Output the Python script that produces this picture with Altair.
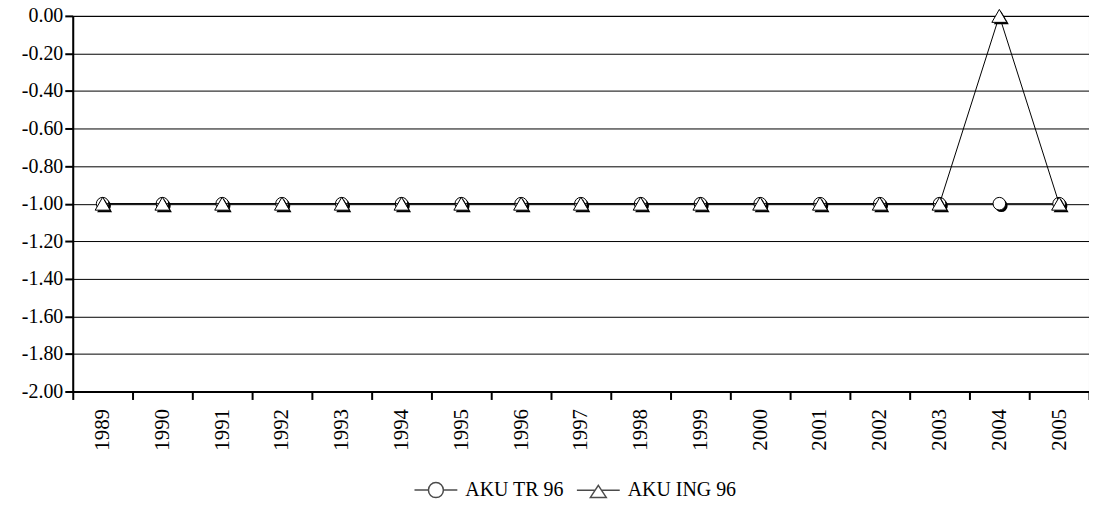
import altair as alt
import pandas as pd

years = ["1989", "1990", "1991", "1992", "1993", "1994", "1995", "1996", "1997",
         "1998", "1999", "2000", "2001", "2002", "2003", "2004", "2005"]
aku_tr_96 = [-1.0, -1.0, -1.0, -1.0, -1.0, -1.0, -1.0, -1.0, -1.0,
             -1.0, -1.0, -1.0, -1.0, -1.0, -1.0, -1.0, -1.0]
aku_ing_96 = [-1.0, -1.0, -1.0, -1.0, -1.0, -1.0, -1.0, -1.0, -1.0,
              -1.0, -1.0, -1.0, -1.0, -1.0, -1.0, 0.0, -1.0]
series_names = ["AKU TR 96", "AKU ING 96"]
y_ticks = [0.0, -0.2, -0.4, -0.6, -0.8, -1.0, -1.2, -1.4, -1.6, -1.8, -2.0]

tr_df = pd.DataFrame({"year": years, "value": aku_tr_96, "series": series_names[0]})
ing_df = pd.DataFrame({"year": years, "value": aku_ing_96, "series": series_names[1]})
# legend-only rows: far outside the y domain, so they fall off the canvas
leg_df = pd.DataFrame({"year": [years[0], years[0]], "value": [2.0, 2.0], "series": series_names})

FONT = "Liberation Serif"

x_enc = alt.X("year:N", sort=years,
              scale=alt.Scale(type="band", domain=years, paddingInner=0, paddingOuter=0),
              axis=alt.Axis(title=None, labelAngle=270, labelAlign="right", labelBaseline="middle",
                            labelPadding=9, tickBand="extent", grid=False, labelFontSize=21))
y_enc = alt.Y("value:Q", scale=alt.Scale(domain=[-2, 0], nice=False, zero=False),
              axis=alt.Axis(title=None, values=y_ticks, grid=True,
                            labelExpr="(datum.value < 0 ? '-' : '') + format(abs(datum.value), '.2f')",
                            labelPadding=2, labelFontSize=20))

def line(df):
    return alt.Chart(df).mark_line(color="black", strokeWidth=1).encode(x=x_enc, y=y_enc)

def shadow(df, shape, size):
    return alt.Chart(df).mark_point(shape=shape, size=size, filled=True, color="black",
                                    opacity=1, xOffset=2, yOffset=2).encode(x=x_enc, y=y_enc)

def marker(df, shape, size):
    return alt.Chart(df).mark_point(shape=shape, size=size, filled=True, fill="white",
                                    stroke="black", strokeWidth=1, opacity=1).encode(x=x_enc, y=y_enc)

circle_leg = ("M-1,0L-0.35,0M0.35,0L1,0"
              "M0.35,0A0.35,0.35,0,1,1,-0.35,0A0.35,0.35,0,1,1,0.35,0Z")
tri_leg = "M-1,0L-0.15,0M0.15,0L1,0M0,-0.23L0.37,0.33L-0.37,0.33Z"

legend_layer = alt.Chart(leg_df).mark_point(color="black").encode(
    x=x_enc, y=y_enc,
    shape=alt.Shape("series:N",
                    scale=alt.Scale(domain=series_names, range=[circle_leg, tri_leg]),
                    legend=alt.Legend(title=None, orient="none", legendX=342, legendY=453,
                                      direction="horizontal",
                                      symbolSize=1849, symbolFillColor="white",
                                      labelFont=FONT, labelFontSize=20, labelColor="black",
                                      labelOffset=7, columnPadding=10))
)

chart = alt.layer(
    line(tr_df),
    shadow(tr_df, "circle", 160),
    marker(tr_df, "circle", 160),
    line(ing_df),
    shadow(ing_df, "triangle-up", 225),
    marker(ing_df, "triangle-up", 225),
    legend_layer,
).properties(
    width=1020, height=377,
    autosize=alt.AutoSizeParams(type="none"),
    padding={"left": 65, "top": 7, "right": 0, "bottom": 108},
    background="white",
).configure_axis(
    labelFont=FONT, labelColor="black",
    domainColor="black", domainWidth=2, tickColor="black", tickWidth=2, tickSize=8,
    gridColor="black", gridWidth=1, gridOpacity=1,
).configure_view(
    stroke="black", strokeWidth=1,
)

chart.save("out.html", embed_options={"renderer": "svg", "actions": False})
